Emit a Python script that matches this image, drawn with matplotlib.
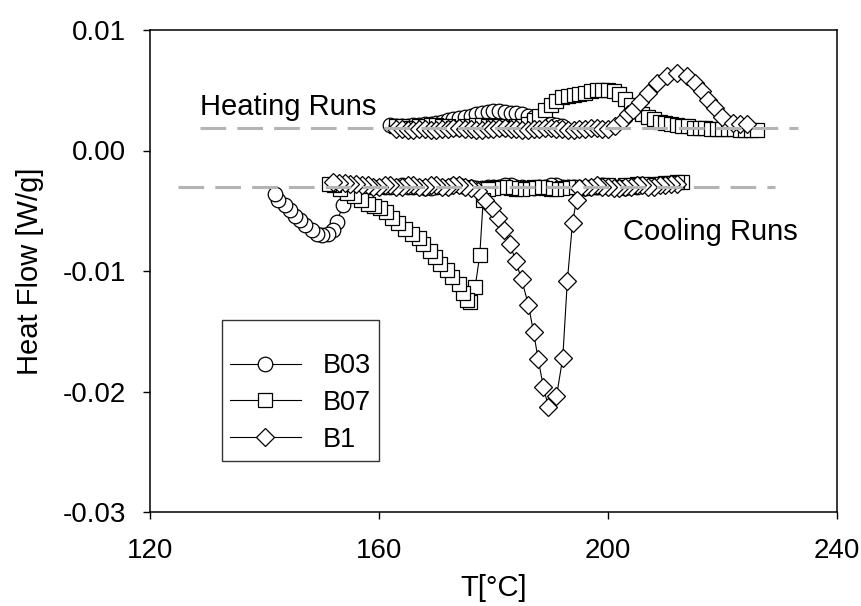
import numpy as np
import matplotlib
matplotlib.use("Agg")
import matplotlib.pyplot as plt
from matplotlib.lines import Line2D

plt.rcParams['font.family'] = ['Liberation Sans', 'DejaVu Sans']
plt.rcParams['lines.scale_dashes'] = False

# reference levels of the two runs
heat_base = 0.0019
cool_base = -0.0030

# B03 (circles)
b03_heat_T = [162, 163, 164, 165, 166, 167, 168, 169, 170, 171, 172, 173, 174, 175, 176,
              177, 178, 179, 180, 181, 182, 183, 184, 185, 186, 187, 188, 189, 190, 191, 192]
b03_heat_hf = [0.0021, 0.0020, 0.0020, 0.0020, 0.0021, 0.0021, 0.0022, 0.0022, 0.0023, 0.0024,
               0.0025, 0.0026, 0.0027, 0.0028, 0.0029, 0.0030, 0.0031, 0.0032, 0.0033, 0.0033,
               0.0032, 0.0031, 0.0031, 0.0030, 0.0029, 0.0028, 0.0026, 0.0024, 0.0022, 0.0021, 0.0020]
b03_cool_T = [205, 204, 203, 202, 201, 200, 199, 198, 197, 196, 195, 194, 193, 192, 191, 190,
              189, 188, 187, 186, 185, 184, 183, 182, 181, 180, 179, 178, 177, 176, 175, 174,
              173, 172, 171, 170, 169, 168, 167, 166, 165, 164, 163, 162, 161, 160, 159, 158,
              157, 156, 155.2, 154.4, 153.7, 152.7, 152.0, 151.1, 150.0, 149.2, 148.3, 147.1,
              146.2, 145.3, 144.5, 143.6, 142.4, 141.8]
b03_cool_hf = [-0.0030, -0.0030, -0.0031, -0.0031, -0.0030, -0.0030, -0.0029, -0.0030, -0.0030,
               -0.0031, -0.0031, -0.0030, -0.0030, -0.0030, -0.0029, -0.0029, -0.0030, -0.0030,
               -0.0031, -0.0031, -0.0030, -0.0030, -0.0029, -0.0029, -0.0030, -0.0030, -0.0030,
               -0.0031, -0.0031, -0.0030, -0.0030, -0.0029, -0.0029, -0.0030, -0.0030, -0.0030,
               -0.0031, -0.0031, -0.0030, -0.0030, -0.0030, -0.0029, -0.0030, -0.0030, -0.0030,
               -0.0030, -0.0030, -0.0030, -0.0030, -0.0031, -0.0033, -0.0037, -0.0045, -0.0059,
               -0.0066, -0.0069, -0.0070, -0.0069, -0.0066, -0.0062, -0.0058, -0.0054, -0.0049,
               -0.0045, -0.0041, -0.0036]

# B07 (squares)
b07_heat_T = [163, 164, 165, 166, 167, 168, 169, 170, 171, 172, 173, 174, 175, 176, 177, 178,
              179, 180, 181, 182, 183, 184, 185, 186, 187, 188, 189, 190, 191, 192, 193, 194,
              195, 196, 197, 198, 199, 200, 201, 202, 203, 204, 205, 206, 207, 208, 209, 210,
              211, 212, 213, 214, 215, 216, 217, 218, 219, 220, 221, 222, 223, 224, 225, 226]
b07_heat_hf = [0.0020, 0.0020, 0.0019, 0.0019, 0.0020, 0.0020, 0.0021, 0.0021, 0.0020, 0.0020,
               0.0019, 0.0019, 0.0020, 0.0020, 0.0021, 0.0021, 0.0020, 0.0020, 0.0020, 0.0019,
               0.0019, 0.0020, 0.0020, 0.0022, 0.0025, 0.0029, 0.0034, 0.0038, 0.0041, 0.0044,
               0.0045, 0.0046, 0.0047, 0.0048, 0.0049, 0.0050, 0.0050, 0.0050, 0.0049, 0.0047,
               0.0043, 0.0038, 0.0033, 0.0030, 0.0028, 0.0026, 0.0024, 0.0023, 0.0022, 0.0021,
               0.0020, 0.0020, 0.0019, 0.0019, 0.0019, 0.0018, 0.0018, 0.0018, 0.0018, 0.0018,
               0.0017, 0.0017, 0.0017, 0.0017]
b07_cool_T = [213, 212, 211, 210, 209, 208, 207, 206, 205, 204, 203, 202, 201, 200, 199, 198,
              197, 196, 195, 194, 193, 192, 191, 190, 189, 188, 187, 186, 185, 184, 183, 182,
              181, 180, 179, 178.2, 177.6, 176.8, 175.9, 175.3, 174.7, 173.9, 172.7, 171.8,
              170.7, 169.7, 168.9, 167.7, 166.9, 165.7, 164.5, 163.4, 162.2, 161.3, 160.2,
              159.1, 158.0, 156.8, 155.6, 154.4, 153.2, 152.1, 151.2]
b07_cool_hf = [-0.0026, -0.0026, -0.0027, -0.0027, -0.0028, -0.0028, -0.0029, -0.0028, -0.0028,
               -0.0029, -0.0029, -0.0030, -0.0030, -0.0029, -0.0029, -0.0030, -0.0030, -0.0031,
               -0.0031, -0.0030, -0.0030, -0.0031, -0.0032, -0.0032, -0.0031, -0.0030, -0.0030,
               -0.0031, -0.0032, -0.0032, -0.0031, -0.0030, -0.0030, -0.0031, -0.0032, -0.0041,
               -0.0087, -0.0113, -0.0126, -0.0124, -0.0118, -0.0111, -0.0105, -0.0099, -0.0094,
               -0.0088, -0.0083, -0.0078, -0.0073, -0.0069, -0.0065, -0.0060, -0.0056, -0.0051,
               -0.0048, -0.0046, -0.0044, -0.0041, -0.0038, -0.0035, -0.0032, -0.0029, -0.0028]

# B1 (diamonds)
b1_heat_T = [163, 164, 165, 166, 167, 168, 169, 170, 171, 172, 173, 174, 175, 176, 177, 178,
             179, 180, 181, 182, 183, 184, 185, 186, 187, 188, 189, 190, 191, 192, 193, 194,
             195, 196, 197, 198, 199, 200, 201.3, 202.6, 203.5, 204.4, 205.6, 207.0, 208.6,
             210.3, 212.0, 213.8, 215.2, 216.4, 217.5, 218.7, 219.9, 221.8, 223.0, 224.3]
b1_heat_hf = [0.0018, 0.0018, 0.0017, 0.0017, 0.0018, 0.0018, 0.0017, 0.0017, 0.0018, 0.0018,
              0.0019, 0.0019, 0.0018, 0.0018, 0.0017, 0.0017, 0.0018, 0.0018, 0.0019, 0.0019,
              0.0018, 0.0018, 0.0017, 0.0017, 0.0018, 0.0018, 0.0019, 0.0019, 0.0018, 0.0018,
              0.0017, 0.0017, 0.0018, 0.0018, 0.0019, 0.0019, 0.0018, 0.0018, 0.0020, 0.0025,
              0.0030, 0.0034, 0.0040, 0.0048, 0.0056, 0.0062, 0.0064, 0.0062, 0.0056, 0.0049,
              0.0042, 0.0035, 0.0028, 0.0023, 0.0022, 0.0022]
b1_cool_T = [212, 211, 210, 209, 208, 207, 206, 205, 204, 203, 202, 201, 200, 199, 198, 197,
             196, 195, 194.5, 193.8, 192.9, 192.1, 191.0, 189.6, 188.7, 187.8, 187.0, 186.1,
             184.9, 183.9, 182.9, 181.8, 180.8, 179.7, 178.5, 177.3, 176, 175, 174, 173, 172,
             171, 170, 169, 168, 167, 166, 165, 164, 163, 162, 161, 160, 159, 158, 157, 156,
             155, 154, 153, 152]
b1_cool_hf = [-0.0028, -0.0028, -0.0029, -0.0029, -0.0030, -0.0030, -0.0029, -0.0029, -0.0030,
              -0.0030, -0.0031, -0.0031, -0.0030, -0.0030, -0.0029, -0.0030, -0.0030, -0.0031,
              -0.0041, -0.0060, -0.0108, -0.0172, -0.0204, -0.0213, -0.0196, -0.0173, -0.0151,
              -0.0128, -0.0107, -0.0092, -0.0078, -0.0066, -0.0056, -0.0048, -0.0041, -0.0034,
              -0.0031, -0.0030, -0.0029, -0.0029, -0.0030, -0.0030, -0.0029, -0.0029, -0.0030,
              -0.0030, -0.0029, -0.0029, -0.0030, -0.0030, -0.0029, -0.0029, -0.0030, -0.0030,
              -0.0029, -0.0029, -0.0028, -0.0028, -0.0027, -0.0027, -0.0026]

fig = plt.figure(figsize=(8.62, 6.06), dpi=100)
ax = fig.add_axes([150 / 862, 94 / 606, 687 / 862, 482 / 606])

style = dict(color='black', lw=0.8, mfc='white', mec='black', mew=0.9)
series = [("B03", 'o', 10.5, b03_heat_T, b03_heat_hf, b03_cool_T, b03_cool_hf),
          ("B07", 's', 10.5, b07_heat_T, b07_heat_hf, b07_cool_T, b07_cool_hf),
          ("B1", 'D', 9.0, b1_heat_T, b1_heat_hf, b1_cool_T, b1_cool_hf)]
handles = []
for name, mk, ms, hT, hy, cT, cy in series:
    ax.plot(hT, hy, marker=mk, ms=ms, **style)
    ax.plot(cT, cy, marker=mk, ms=ms, **style)
    handles.append(Line2D([], [], marker=mk, ms=ms, label=name, **style))

# dashed guide lines
ax.plot([128.7, 233.2], [heat_base, heat_base], color='#b4b4b4', lw=2.2,
        dashes=(18.5, 8), zorder=5)
ax.plot([124.9, 229.2], [cool_base, cool_base], color='#b4b4b4', lw=2.2,
        dashes=(18.5, 8), zorder=5)

ax.text(128.7, 0.00295, "Heating Runs", fontsize=21, va='baseline', ha='left')
ax.text(202.6, -0.0074, "Cooling Runs", fontsize=21, va='baseline', ha='left')

ax.set_xlim(120, 240)
ax.set_ylim(-0.03, 0.01)
ax.set_xticks([120, 160, 200, 240])
ax.set_yticks([-0.03, -0.02, -0.01, 0.00, 0.01])
ax.set_yticklabels(["-0.03", "-0.02", "-0.01", "0.00", "0.01"])
ax.tick_params(direction='out', length=5, width=1, labelsize=20, pad=12,
               top=False, right=False)
ax.tick_params(axis='x', pad=14)
for sp in ax.spines.values():
    sp.set_linewidth(1.1)

ax.set_xlabel("T[°C]", fontsize=21, labelpad=7)
ax.set_ylabel("Heat Flow [W/g]", fontsize=21, labelpad=14)

# empty title only adds the extra room above the first row
leg = ax.legend(handles=handles, loc='upper left', bbox_to_anchor=(0.105, 0.398),
                borderaxespad=0, fontsize=19.5, frameon=True, fancybox=False,
                handlelength=2.6, handletextpad=0.8, labelspacing=0.4,
                borderpad=0.3, title=" ", title_fontsize=10)
leg.get_frame().set_edgecolor('black')
leg.get_frame().set_linewidth(1.0)

fig.savefig("out.png", dpi=100)
